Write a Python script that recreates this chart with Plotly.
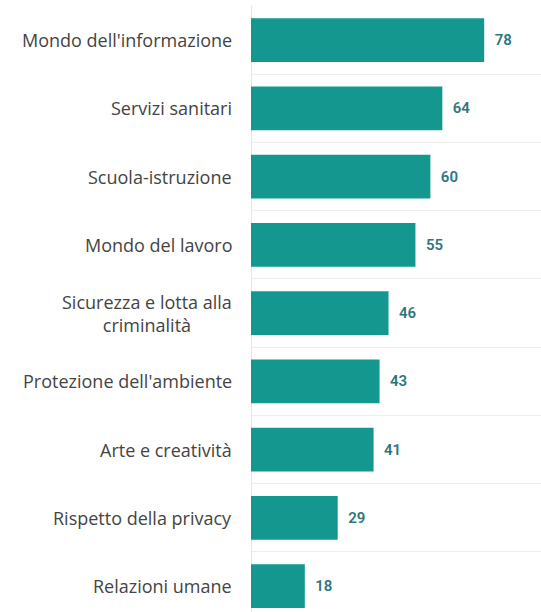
import plotly.graph_objects as go

# Categories listed top to bottom, with their values
categories = [
    "Mondo dell'informazione",
    "Servizi sanitari",
    "Scuola-istruzione",
    "Mondo del lavoro",
    "Sicurezza e lotta alla<br>criminalità",
    "Protezione dell'ambiente",
    "Arte e creatività",
    "Rispetto della privacy",
    "Relazioni umane",
]
values = [78, 64, 60, 55, 46, 43, 41, 29, 18]

BAR_COLOR = "#14978f"
VALUE_COLOR = "#2e767b"
LABEL_COLOR = "#444444"
PAD = "\u00a0\u00a0"

fig = go.Figure(
    go.Bar(
        x=values,
        y=categories,
        orientation="h",
        marker=dict(color=BAR_COLOR, line=dict(width=0)),
        text=[PAD + str(v) for v in values],
        textposition="outside",
        textfont=dict(family="Roboto", size=15, color=VALUE_COLOR, weight=600),
        cliponaxis=False,
    )
)

# Category labels, centred per line, placed to the left of the bars
for cat in categories:
    fig.add_annotation(
        x=0, xref="paper", y=cat, yref="y",
        text=cat, showarrow=False,
        xanchor="right", yanchor="middle", align="center",
        xshift=-17,
        font=dict(family="Open Sans", size=18, color=LABEL_COLOR, weight=500),
    )

fig.update_layout(
    width=541, height=612,
    margin=dict(l=251, r=0, t=6, b=0),
    paper_bgcolor="white", plot_bgcolor="white",
    bargap=0.36,
    showlegend=False,
    xaxis=dict(
        range=[0, 97], showgrid=False, showticklabels=False,
        zeroline=True, zerolinecolor="#e6e6e6", zerolinewidth=1,
        showline=False, fixedrange=True,
    ),
    yaxis=dict(
        type="category",
        categoryorder="array", categoryarray=categories,
        range=[8.38, -0.5], autorange=False,
        showticklabels=False,
        tickson="boundaries", showgrid=True, gridcolor="#ededed", gridwidth=1,
        zeroline=False, showline=False, ticks="",
    ),
)

fig.write_html("out.html")
